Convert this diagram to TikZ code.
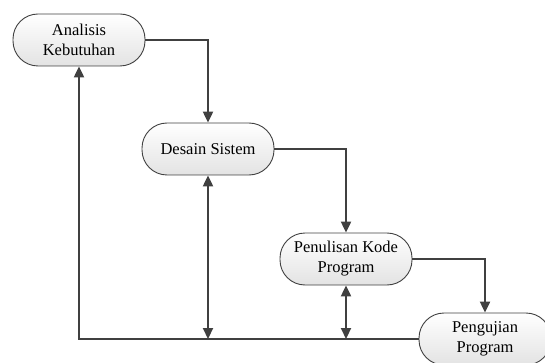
\documentclass[tikz,border=0pt]{standalone}
\usepackage{fontspec}
\setmainfont{Liberation Serif}
\usetikzlibrary{arrows.meta, positioning}
\tikzset{
    step box/.style={
        rectangle,
        rounded corners=25pt,
        draw=black!75,
        line width=0.9pt,
        top color=white,
        bottom color=gray!22,
        minimum width=132pt,
        minimum height=52pt,
        align=center,
        font=\fontsize{16.5}{20}\selectfont
    },
    flow/.style={
        -{Triangle[length=11pt,width=10pt]},
        line width=2.2pt,
        draw=black!75
    },
    both/.style={
        {Triangle[length=11pt,width=10pt]}-{Triangle[length=11pt,width=10pt]},
        line width=2.2pt,
        draw=black!75
    }
}
\begin{document}
\begin{tikzpicture}[x=1pt,y=-1pt]
            \clip (0,0) rectangle (545,363);

            % Steps
            \node[step box] (analisis) at (79,40) {Analisis\\Kebutuhan};
            \node[step box] (desain) at (208,149) {Desain Sistem};
            \node[step box] (kode) at (346,259) {Penulisan Kode\\Program};
            \node[step box] (uji) at (485,339) {Pengujian\\Program};

            % Forward flow
            \draw[flow] (analisis.east) -| (desain.north);
            \draw[flow] (desain.east) -| (kode.north);
            \draw[flow] (kode.east) -| (uji.north);

            % Feedback
            \coordinate (corner) at (analisis.south |- uji.west);
            \draw[flow] (uji.west) -- (corner) -- (analisis.south);
            \draw[both] (desain.south) -- (desain.south |- uji.west);
            \draw[both] (kode.south) -- (kode.south |- uji.west);
\end{tikzpicture}
\end{document}
